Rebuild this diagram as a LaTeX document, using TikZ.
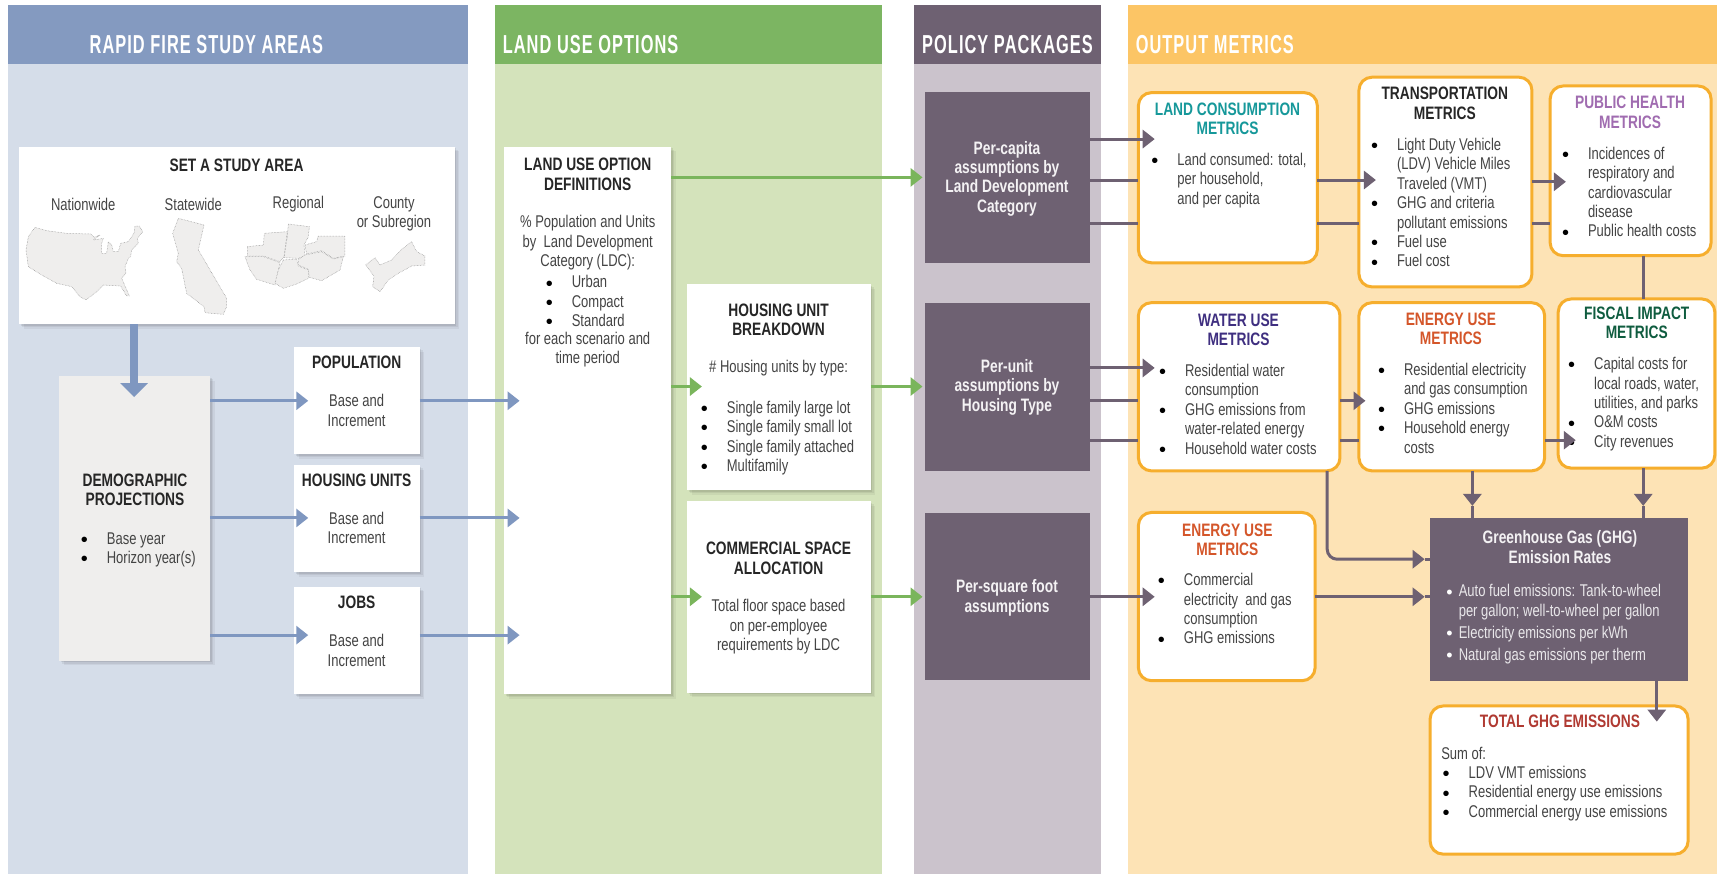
\documentclass[tikz,border=0pt]{standalone}
\usepackage{fontspec}
\setmainfont[FakeStretch=.765]{Liberation Sans}
\newfontfamily\hdfont[FakeStretch=.63,LetterSpace=4]{Liberation Sans}
\newfontfamily\bulfont{Liberation Sans}
\usetikzlibrary{arrows.meta,shadows}
\definecolor{hA}{HTML}{849AC0}\definecolor{bA}{HTML}{D5DDE9}
\definecolor{hB}{HTML}{7CB562}\definecolor{bB}{HTML}{D4E3BB}
\definecolor{hC}{HTML}{6E6172}\definecolor{bC}{HTML}{CBC3CC}
\definecolor{hD}{HTML}{FCC565}\definecolor{bD}{HTML}{FDE3B5}
\definecolor{org}{HTML}{F6AE2D}\definecolor{body}{HTML}{444444}
\definecolor{arB}{HTML}{7F97C0}\definecolor{arG}{HTML}{7AB55C}
\definecolor{mapf}{HTML}{EFEEED}\definecolor{mapl}{HTML}{8A8A8A}
\definecolor{teal1}{HTML}{16989A}\definecolor{purp1}{HTML}{A06CB0}
\definecolor{navy1}{HTML}{3F2F80}\definecolor{red1}{HTML}{D4562A}
\definecolor{grn1}{HTML}{0F5C3F}\definecolor{red2}{HTML}{B03A32}
\newcommand\bx[6]{%
  \pgfmathsetmacro\bxw{(#4-#2)*1.09503}\pgfmathsetmacro\bxh{(#5-#3)*1.09503}%
  \node[#6,minimum width=\bxw pt,minimum height=\bxh pt,anchor=north west,inner sep=0pt,outer sep=0pt] (#1) at (#2,#3) {};}
\newcommand\bi{\leavevmode\llap{\smash{\color{black}\raisebox{-2.2pt}{\bulfont\fontsize{20}{20}\selectfont\textbullet}\hspace{19pt}}}}
\newcommand\biw{\leavevmode\llap{\smash{\color{white}\raisebox{-1.4pt}{\bulfont\fontsize{18}{18}\selectfont\textbullet}\hspace{6pt}}}}
\tikzset{
  panel/.style={fill=#1,draw=none},
  card/.style={fill=white,draw=none,
    drop shadow={shadow xshift=4.5pt,shadow yshift=-4.5pt,fill=black,opacity=.05},
    drop shadow={shadow xshift=3pt,shadow yshift=-3pt,fill=black,opacity=.06},
    drop shadow={shadow xshift=1.5pt,shadow yshift=-1.5pt,fill=black,opacity=.08}},
  ocard/.style={fill=white,draw=org,line width=3pt,rounded corners=13pt},
  pbox/.style={fill=hC,draw=none},
  ttl/.style={font=\fontsize{18}{19.4}\selectfont\bfseries,align=center,inner sep=0pt,text=#1},
  ttl/.default=black!85,
  hd/.style={font=\hdfont\fontsize{26}{28}\selectfont\bfseries,text=white,inner sep=0pt},
  ctr/.style={font=\fontsize{17}{19.4}\selectfont,align=center,inner sep=0pt,text=body},
  lst/.style={font=\fontsize{17}{19.4}\selectfont,align=left,inner sep=0pt,text=body,anchor=north west},
  wht/.style={font=\fontsize{18}{19.4}\selectfont\bfseries,align=center,inner sep=0pt,text=white!92!hC},
  con/.style={draw=hC,line width=3pt},
  ap/.style={con,-{Triangle[length=12pt,width=18pt]}},
  ab/.style={draw=arB,line width=3pt,-{Triangle[length=12pt,width=18pt]}},
  ag/.style={draw=arG,line width=3pt,-{Triangle[length=12pt,width=18pt]}},
  mp/.style={fill=mapf,draw=mapl,line width=.5pt,densely dotted,line join=round},
}
\begin{document}
\begin{tikzpicture}[x=1.09503pt,y=-1.09503pt]
\useasboundingbox (0,0) rectangle (1568,798);
% panels
\bx{pa}{7}{5}{427}{798}{panel=bA}
\bx{pah}{7}{5}{427}{58}{panel=hA}
\bx{pb}{452}{5}{805}{798}{panel=bB}
\bx{pbh}{452}{5}{805}{58}{panel=hB}
\bx{pc}{834.5}{5}{1005}{798}{panel=bC}
\bx{pch}{834.5}{5}{1005}{58}{panel=hC}
\bx{pd}{1030}{5}{1568}{798}{panel=bD}
\bx{pdh}{1030}{5}{1568}{58}{panel=hD}
\node[hd] (h1) at (188.5,41) {RAPID FIRE STUDY AREAS};
\node[hd,anchor=west] (h2) at (459,41) {LAND USE OPTIONS};
\node[hd,anchor=west] (h3) at (842,41) {POLICY PACKAGES};
\node[hd,anchor=west] (h4) at (1037,41) {OUTPUT METRICS};
% left cards
\bx{area}{17.4}{134}{415.5}{296}{card}
\bx{demo}{54}{343.5}{191.8}{603.5}{card,fill=mapf}
\bx{pop}{268.5}{317}{383.5}{415}{card}
\bx{hu}{268.5}{424.7}{383.5}{522.6}{card}
\bx{jobs}{268.5}{536}{383.5}{634}{card}
\bx{luo}{460.6}{134}{612.8}{634}{card}
\bx{hub}{627.4}{259.4}{795.4}{447.5}{card}
\bx{csa}{627.4}{457.7}{795.4}{632.5}{card}
% policy
\bx{p1}{844.7}{84}{995}{240}{pbox}
\bx{p2}{844.7}{276.4}{995}{430}{pbox}
\bx{p3}{844.7}{468.7}{995}{621}{pbox}
% outputs
\bx{lc}{1039.6}{84.6}{1203}{240}{ocard}
\bx{tm}{1241}{70.5}{1399}{262}{ocard}
\bx{ph}{1415.6}{78.5}{1562.6}{233.5}{ocard}
\bx{wu}{1039.6}{276.4}{1223.7}{430}{ocard}
\bx{eu}{1241}{276.4}{1410.6}{430}{ocard}
\bx{fi}{1423}{273}{1566}{427.5}{ocard}
\bx{ec}{1039.6}{468}{1201}{621.6}{ocard}
\bx{gh}{1306}{473}{1541.6}{622}{pbox}
\bx{tg}{1306}{644.7}{1541.6}{780}{ocard}
% maps
\begin{scope}[shift={(0,118.72)},x=.33333pt,y=-.33333pt]
\draw[mp] (105,292)--(140,302)--(200,310)--(272,312)--(282,322)--(300,315)--(280,330)--(310,325)--(305,340)--(305,370)--(320,370)--(325,335)--(335,345)--(340,365)--(355,365)--(362,340)--(385,335)--(402,310)--(405,288)--(418,288)--(428,305)--(412,325)--(415,340)--(395,360)--(392,380)--(385,385)--(375,410)--(378,430)--(365,445)--(388,498)--(380,498)--(362,468)--(310,465)--(290,485)--(258,510)--(240,500)--(215,470)--(170,460)--(125,435)--(85,410)--(78,360)--(85,320)--cycle;
\draw[mp] (535,265)--(612,285)--(595,360)--(680,505)--(680,530)--(670,553)--(615,548)--(612,530)--(560,490)--(545,415)--(530,395)--(535,370)--(518,310)--cycle;
\draw[mp] (742,350)--(790,345)--(793,310)--(862,305)--(852,380)--(840,395)--(790,378)--(742,378)--cycle;
\draw[mp] (865,282)--(928,290)--(925,320)--(912,345)--(915,378)--(895,385)--(852,383)--(862,320)--cycle;
\draw[mp] (955,318)--(1035,318)--(1035,378)--(1000,385)--(965,362)--(920,372)--(915,345)--(950,335)--cycle;
\draw[mp] (735,380)--(790,380)--(840,398)--(830,445)--(825,465)--(770,448)--(750,420)--cycle;
\draw[mp] (850,390)--(890,387)--(895,408)--(925,420)--(925,445)--(890,462)--(850,475)--(825,460)--(835,420)--cycle;
\draw[mp] (915,375)--(965,365)--(1000,387)--(1030,380)--(1020,420)--(965,452)--(928,442)--(925,418)--(895,405)--(895,388)--cycle;
\draw[mp] (1097,405)--(1125,383)--(1140,405)--(1175,390)--(1205,358)--(1235,335)--(1250,365)--(1275,378)--(1275,405)--(1235,408)--(1195,430)--(1165,450)--(1140,485)--(1118,470)--(1122,438)--cycle;
\end{scope}
% left texts
\node[ttl] (tarea) at (216,150.7) {SET A STUDY AREA};
\node[ctr] (l1) at (76,186.3) {Nationwide};
\node[ctr] (l2) at (176.5,186.3) {Statewide};
\node[ctr] (l3) at (272.5,186.3) {Regional};
\node[ctr] (l4) at (359.8,195) {County\\or Subregion};
\node[ttl] (tdemo) at (123.3,447.2) {DEMOGRAPHIC\\PROJECTIONS};
\node[lst] (ldemo) at (97.4,486) {\bi Base year\\\bi Horizon year(s)};
\node[ttl] (tpop) at (325.7,331) {POPULATION};
\node[ctr] (cpop) at (325.7,374.8) {Base and\\Increment};
\node[ttl] (thu) at (325.7,439) {HOUSING UNITS};
\node[ctr] (chu) at (325.7,482) {Base and\\Increment};
\node[ttl] (tjobs) at (325.7,550.4) {JOBS};
\node[ctr] (cjobs) at (325.7,593.9) {Base and\\Increment};
\node[ttl] (tluo) at (536.7,159.2) {LAND USE OPTION\\DEFINITIONS};
\node[ctr] (cluo) at (536.7,221.6) {\% Population and Units\\by\ \ Land Development\\Category (LDC):};
\node[lst] (lluo) at (522,251.5) {\bi Urban\\\bi Compact\\\bi Standard};
\node[ctr] (dluo) at (536.7,319.5) {for each scenario and\\time period};
\node[ttl] (thub) at (711,291.8) {HOUSING UNIT\\BREAKDOWN};
\node[ctr] (chub) at (711,336) {\# Housing units by type:};
\node[lst] (lhub) at (663.6,366) {\bi Single family large lot\\\bi Single family small lot\\\bi Single family attached\\\bi Multifamily};
\node[ttl] (tcsa) at (711,509.8) {COMMERCIAL SPACE\\ALLOCATION};
\node[ctr] (ccsa) at (711,572.3) {Total floor space based\\on per-employee\\requirements by LDC};
% policy
\node[wht] (wp1) at (919.6,163) {Per-capita\\assumptions by\\Land Development\\Category};
\node[wht] (wp2) at (919.6,353.5) {Per-unit\\assumptions by\\Housing Type};
\node[wht] (wp3) at (919.6,545.8) {Per-square foot\\assumptions};
% outputs
\node[ttl=teal1] (tlc) at (1121,108.3) {LAND CONSUMPTION\\METRICS};
\node[lst] (llc) at (1075,139.5) {\bi Land consumed: total,\\per household,\\and per capita};
\node[ttl] (ttm) at (1319.4,94.5) {TRANSPORTATION\\METRICS};
\node[lst] (ltm) at (1275.6,126) {\bi Light Duty Vehicle\\(LDV) Vehicle Miles\\Traveled (VMT)\\\bi GHG and criteria\\pollutant emissions\\\bi Fuel use\\\bi Fuel cost};
\node[ttl=purp1] (tph) at (1488.6,102.4) {PUBLIC HEALTH\\METRICS};
\node[lst] (lph) at (1450,134) {\bi Incidences of\\respiratory and\\cardiovascular\\disease\\\bi Public health costs};
\node[ttl=navy1] (twu) at (1131,301) {WATER USE\\METRICS};
\node[lst] (lwu) at (1082,332.4) {\bi Residential water\\consumption\\\bi GHG emissions from\\water-related energy\\\bi Household water costs};
\node[ttl=red1] (teu) at (1325,300) {ENERGY USE\\METRICS};
\node[lst] (leu) at (1282,331.5) {\bi Residential electricity\\and gas consumption\\\bi GHG emissions\\\bi Household energy\\costs};
\node[ttl=grn1] (tfi) at (1494.7,295) {FISCAL IMPACT\\METRICS};
\node[lst] (lfi) at (1455.6,326.2) {\bi Capital costs for\\local roads, water,\\utilities, and parks\\\bi O\&M costs\\\bi City revenues};
\node[ttl=red1] (tec) at (1120.8,492.8) {ENERGY USE\\METRICS};
\node[lst] (lec) at (1081,523.5) {\bi Commercial\\electricity\ \ and gas\\consumption\\\bi GHG emissions};
\node[wht] (wgh) at (1424.6,499.5) {Greenhouse Gas (GHG)\\Emission Rates};
\node[lst,text=white!85!hC] (lg1) at (1332,533.5) {\biw Auto fuel emissions: Tank-to-wheel\\per gallon; well-to-wheel per gallon};
\node[lst,text=white!85!hC] (lg2) at (1332,571.5) {\biw Electricity emissions per kWh};
\node[lst,text=white!85!hC] (lg3) at (1332,591.5) {\biw Natural gas emissions per therm};
\node[ttl=red2] (ttg) at (1424.6,659) {TOTAL GHG EMISSIONS};
\node[lst] (stg) at (1316,682) {Sum of:};
\node[lst] (ltg) at (1341,699.5) {\bi LDV VMT emissions\\\bi Residential energy use emissions\\\bi Commercial energy use emissions};
% connector ends
\coordinate (a1) at (122.4,362.6);
\coordinate (b1) at (281.5,366);\coordinate (b2) at (474.5,366);
\coordinate (b3) at (281.5,473);\coordinate (b4) at (474.5,473);
\coordinate (b5) at (281.5,580);\coordinate (b6) at (474.5,580);
\coordinate (g1) at (842.5,162);
\coordinate (g2) at (641,353);\coordinate (g3) at (842.5,353);
\coordinate (g4) at (641,545);\coordinate (g5) at (842.5,545);
\coordinate (e1) at (1054.5,127);\coordinate (r12) at (0,164.4);\coordinate (r13) at (0,204);
\coordinate (e2) at (1256.5,164.4);\coordinate (e3) at (1430,166);
\coordinate (e4) at (1054.5,336);\coordinate (r22) at (0,366);\coordinate (r23) at (0,402);
\coordinate (e5) at (1247,366);\coordinate (e6) at (1439,402);
\coordinate (e7) at (1054.5,545);\coordinate (e8) at (1301,545);
\coordinate (v1) at (1500.6,0);\coordinate (v2) at (1344.6,0);\coordinate (v3) at (1212,0);\coordinate (v4) at (1513,0);
\coordinate (e9) at (1301,510.7);\coordinate (e10) at (1513,659);
\coordinate (v5) at (1344.6,462);\coordinate (v6) at (1500.6,462);
% blue
\draw[draw=arB,line width=7.5pt,-{Triangle[length=14pt,width=27pt]}] (area.south-|a1) -- (a1);
\draw[ab] (demo.east|-b1) -- (b1);\draw[ab] (pop.east|-b2) -- (b2);
\draw[ab] (demo.east|-b3) -- (b3);\draw[ab] (hu.east|-b4) -- (b4);
\draw[ab] (demo.east|-b5) -- (b5);\draw[ab] (jobs.east|-b6) -- (b6);
% green
\draw[ag] (luo.east|-g1) -- (g1);
\draw[ag] (luo.east|-g2) -- (g2);\draw[ag] (hub.east|-g3) -- (g3);
\draw[ag] (luo.east|-g4) -- (g4);\draw[ag] (csa.east|-g5) -- (g5);
% purple
\draw[ap] (p1.east|-e1) -- (e1);
\draw[con] (p1.east|-r12) -- (lc.west|-r12);
\draw[con] (p1.east|-r13) -- (lc.west|-r13);
\draw[ap] (lc.east|-e2) -- (e2);
\draw[con] (lc.east|-r13) -- (tm.west|-r13);
\draw[ap] (tm.east|-e3) -- (e3);
\draw[con] (tm.east|-r13) -- (ph.west|-r13);
\draw[ap] (p2.east|-e4) -- (e4);
\draw[con] (p2.east|-r22) -- (wu.west|-r22);
\draw[con] (p2.east|-r23) -- (wu.west|-r23);
\draw[ap] (wu.east|-e5) -- (e5);
\draw[con] (wu.east|-r23) -- (eu.west|-r23);
\draw[ap] (eu.east|-e6) -- (e6);
\draw[ap] (p3.east|-e7) -- (e7);
\draw[ap] (ec.east|-e8) -- (e8);
\draw[con] (e8) -- (gh.west|-e8);
\draw[con] (ph.south-|v1) -- (fi.north-|v1);
\draw[ap] (fi.south-|v1) -- (v6);
\draw[con] (v6) -- (gh.north-|v1);
\draw[ap] (eu.south-|v2) -- (v5);
\draw[con] (v5) -- (gh.north-|v2);
\draw[ap,rounded corners=10pt] (wu.south-|v3) -- (v3|-e9) -- (e9);
\draw[con] (e9) -- (gh.west|-e9);
\draw[ap] (gh.south-|v4) -- (e10);
\end{tikzpicture}
\end{document}
